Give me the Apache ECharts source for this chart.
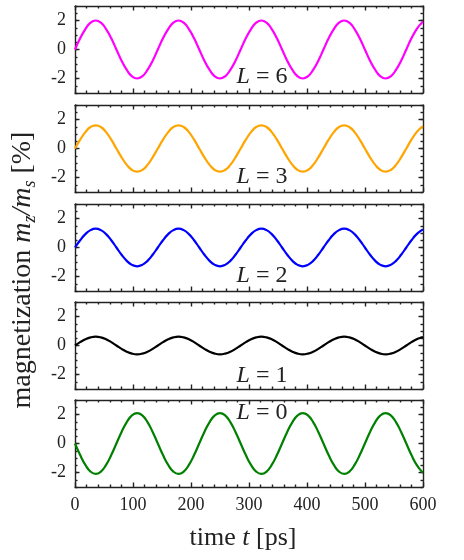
<!DOCTYPE html>
<html>
<head>
<meta charset="utf-8">
<script src="https://cdn.jsdelivr.net/npm/echarts@6/dist/echarts.min.js"></script>
<style>
  html, body { margin: 0; padding: 0; background: #fff; }
  #chart { width: 464px; height: 560px; }
</style>
</head>
<body>
<div id="chart"></div>
<script>
// time axis [ps], sampled at 1/16 of the oscillation period
const time = [0, 8.9, 17.9, 26.8, 35.7, 44.6, 53.6, 62.5, 71.4, 80.3, 89.3, 98.2, 107.1, 116.0, 125.0, 133.9,
  142.8, 151.7, 160.7, 169.6, 178.5, 187.4, 196.4, 205.3, 214.2, 223.1, 232.1, 241.0, 249.9, 258.8, 267.8, 276.7,
  285.6, 294.5, 303.5, 312.4, 321.3, 330.2, 339.2, 348.1, 357.0, 365.9, 374.9, 383.8, 392.7, 401.6, 410.6, 419.5,
  428.4, 437.3, 446.3, 455.2, 464.1, 473.0, 482.0, 490.9, 499.8, 508.7, 517.7, 526.6, 535.5, 544.4, 553.4, 562.3,
  571.2, 580.1, 589.1, 598.0, 600]

// magnetization m_z/m_s [%] per L
const magL6 = [0, 0.77, 1.41, 1.85, 2.00, 1.85, 1.41, 0.77, 0, -0.77, -1.41, -1.85, -2.00, -1.85, -1.41, -0.77,
  0, 0.77, 1.41, 1.85, 2.00, 1.85, 1.41, 0.77, 0, -0.77, -1.41, -1.85, -2.00, -1.85, -1.41, -0.77,
  0, 0.77, 1.41, 1.85, 2.00, 1.85, 1.41, 0.77, 0, -0.77, -1.41, -1.85, -2.00, -1.85, -1.41, -0.77,
  0, 0.77, 1.41, 1.85, 2.00, 1.85, 1.41, 0.77, 0, -0.77, -1.41, -1.85, -2.00, -1.85, -1.41, -0.77,
  0, 0.77, 1.41, 1.85, 1.91]
const magL3 = [0, 0.61, 1.13, 1.48, 1.60, 1.48, 1.13, 0.61, 0, -0.61, -1.13, -1.48, -1.60, -1.48, -1.13, -0.61,
  0, 0.61, 1.13, 1.48, 1.60, 1.48, 1.13, 0.61, 0, -0.61, -1.13, -1.48, -1.60, -1.48, -1.13, -0.61,
  0, 0.61, 1.13, 1.48, 1.60, 1.48, 1.13, 0.61, 0, -0.61, -1.13, -1.48, -1.60, -1.48, -1.13, -0.61,
  0, 0.61, 1.13, 1.48, 1.60, 1.48, 1.13, 0.61, 0, -0.61, -1.13, -1.48, -1.60, -1.48, -1.13, -0.61,
  0, 0.61, 1.13, 1.48, 1.53]
const magL2 = [0, 0.50, 0.92, 1.20, 1.30, 1.20, 0.92, 0.50, 0, -0.50, -0.92, -1.20, -1.30, -1.20, -0.92, -0.50,
  0, 0.50, 0.92, 1.20, 1.30, 1.20, 0.92, 0.50, 0, -0.50, -0.92, -1.20, -1.30, -1.20, -0.92, -0.50,
  0, 0.50, 0.92, 1.20, 1.30, 1.20, 0.92, 0.50, 0, -0.50, -0.92, -1.20, -1.30, -1.20, -0.92, -0.50,
  0, 0.50, 0.92, 1.20, 1.30, 1.20, 0.92, 0.50, 0, -0.50, -0.92, -1.20, -1.30, -1.20, -0.92, -0.50,
  0, 0.50, 0.92, 1.20, 1.24]
const magL1 = [0, 0.23, 0.43, 0.56, 0.61, 0.56, 0.43, 0.23, 0, -0.23, -0.43, -0.56, -0.61, -0.56, -0.43, -0.23,
  0, 0.23, 0.43, 0.56, 0.61, 0.56, 0.43, 0.23, 0, -0.23, -0.43, -0.56, -0.61, -0.56, -0.43, -0.23,
  0, 0.23, 0.43, 0.56, 0.61, 0.56, 0.43, 0.23, 0, -0.23, -0.43, -0.56, -0.61, -0.56, -0.43, -0.23,
  0, 0.23, 0.43, 0.56, 0.61, 0.56, 0.43, 0.23, 0, -0.23, -0.43, -0.56, -0.61, -0.56, -0.43, -0.23,
  0, 0.23, 0.43, 0.56, 0.58]
const magL0 = [0, -0.80, -1.48, -1.94, -2.10, -1.94, -1.48, -0.80, 0, 0.80, 1.48, 1.94, 2.10, 1.94, 1.48, 0.80,
  0, -0.80, -1.48, -1.94, -2.10, -1.94, -1.48, -0.80, 0, 0.80, 1.48, 1.94, 2.10, 1.94, 1.48, 0.80,
  0, -0.80, -1.48, -1.94, -2.10, -1.94, -1.48, -0.80, 0, 0.80, 1.48, 1.94, 2.10, 1.94, 1.48, 0.80,
  0, -0.80, -1.48, -1.94, -2.10, -1.94, -1.48, -0.80, 0, 0.80, 1.48, 1.94, 2.10, 1.94, 1.48, 0.80,
  0, -0.80, -1.48, -1.94, -2.00]

const panelL = ['6', '3', '2', '1', '0']
const yTicks = [-2, 0, 2]

const FONT = 'Liberation Serif'
const INK = '#222'

const panels = [
  { L: panelL[0], values: magL6, color: '#ff00ff', top: 6, labelDy: 71 },
  { L: panelL[1], values: magL3, color: '#ffa500', top: 105, labelDy: 72 },
  { L: panelL[2], values: magL2, color: '#0000ff', top: 204, labelDy: 72 },
  { L: panelL[3], values: magL1, color: '#000000', top: 302, labelDy: 74 },
  { L: panelL[4], values: magL0, color: '#008000', top: 400, labelDy: 13 }
]
const GRID_LEFT = 75
const GRID_W = 348
const GRID_H = 87

const lineStyle = { color: INK, width: 1.4 }

const grid = []
const xAxis = []
const yAxis = []
const series = []
const graphic = []

panels.forEach((p, i) => {
  grid.push({ left: GRID_LEFT, width: GRID_W, top: p.top, height: GRID_H, outerBoundsMode: 'none' })

  ;['bottom', 'top'].forEach(pos => {
    xAxis.push({
      gridIndex: i,
      type: 'value',
      position: pos,
      min: 0,
      max: 600,
      interval: 100,
      axisLine: { show: true, onZero: false, lineStyle },
      axisTick: { show: true, inside: true, length: 4.5, lineStyle },
      minorTick: { show: true, splitNumber: 5, length: 2.5, lineStyle },
      splitLine: { show: false },
      axisLabel: {
        show: pos === 'bottom' && i === panels.length - 1,
        margin: 9,
        color: INK,
        fontFamily: FONT,
        fontSize: 18
      }
    })
  })

  ;['left', 'right'].forEach(pos => {
    // major ticks + labels
    yAxis.push({
      gridIndex: i,
      type: 'value',
      position: pos,
      min: -3,
      max: 3,
      interval: 1,
      axisLine: { show: true, onZero: false, lineStyle },
      axisTick: { show: true, inside: true, length: 4.5, customValues: yTicks, lineStyle },
      splitLine: { show: false },
      axisLabel: {
        show: pos === 'left',
        customValues: yTicks,
        margin: 9,
        color: INK,
        fontFamily: FONT,
        fontSize: 18
      }
    })
    // minor ticks
    yAxis.push({
      gridIndex: i,
      type: 'value',
      position: pos,
      min: -3,
      max: 3,
      interval: 0.5,
      axisLine: { show: false, onZero: false },
      axisTick: { show: true, inside: true, length: 2.5, lineStyle },
      splitLine: { show: false },
      axisLabel: { show: false }
    })
  })

  series.push({
    type: 'line',
    xAxisIndex: 2 * i,
    yAxisIndex: 4 * i,
    data: time.map((t, k) => [t, p.values[k]]),
    showSymbol: false,
    smooth: true,
    lineStyle: { color: p.color, width: 2.2 },
    itemStyle: { color: p.color }
  })

  graphic.push({
    type: 'text',
    x: 262,
    y: p.top + p.labelDy,
    style: {
      text: '{i|L} = ' + p.L,
      rich: { i: { fontStyle: 'italic', fontFamily: FONT, fontSize: 24, fill: INK } },
      fontFamily: FONT,
      fontSize: 24,
      fill: INK,
      align: 'center',
      verticalAlign: 'middle'
    }
  })
})

// axis titles
graphic.push({
  type: 'text',
  x: 243,
  y: 538,
  style: {
    text: 'time {i|t} [ps]',
    rich: { i: { fontStyle: 'italic', fontFamily: FONT, fontSize: 26, fill: INK } },
    fontFamily: FONT,
    fontSize: 26,
    fill: INK,
    align: 'center',
    verticalAlign: 'middle'
  }
})
graphic.push({
  type: 'text',
  x: 23,
  y: 270,
  rotation: Math.PI / 2,
  style: {
    text: 'magnetization {i|m}{sub|z}{i|/m}{sub|s} [%]',
    rich: {
      i: { fontStyle: 'italic', fontFamily: FONT, fontSize: 28, lineHeight: 32, fill: INK },
      sub: { fontStyle: 'italic', fontFamily: FONT, fontSize: 18, lineHeight: 18, verticalAlign: 'bottom', fill: INK }
    },
    fontFamily: FONT,
    fontSize: 28,
    lineHeight: 32,
    fill: INK,
    align: 'center',
    verticalAlign: 'middle'
  }
})

const chart = echarts.init(document.getElementById('chart'))
chart.setOption({
  animation: false,
  backgroundColor: '#fff',
  grid,
  xAxis,
  yAxis,
  series,
  graphic
})
</script>
</body>
</html>
